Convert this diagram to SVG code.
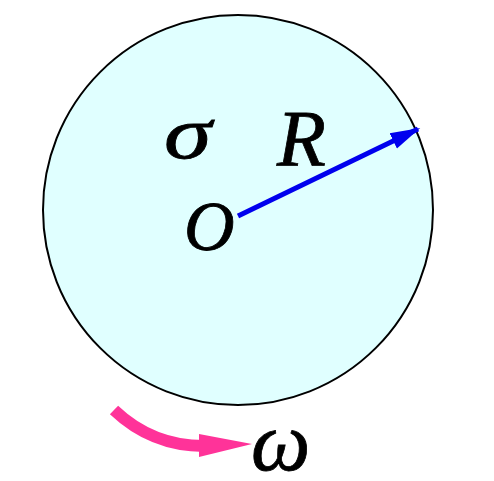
<svg xmlns="http://www.w3.org/2000/svg" width="494" height="481" viewBox="0 0 494 481">
<style>
.lbl{font-family:"Liberation Serif","DejaVu Serif",serif;font-style:italic;fill:#000;stroke:#000;stroke-width:0.8}
</style>
<defs>
<marker id="blueHead" markerWidth="6" markerHeight="4" refX="5.5" refY="2" orient="auto" markerUnits="strokeWidth">
<path d="M0,0.3 L6,2 L0,3.7 Z" fill="#0000ee"/>
</marker>
</defs>
<rect width="494" height="481" fill="#fff"/>
<g id="disk">
<circle cx="238" cy="210" r="195" fill="#e0ffff" stroke="#000" stroke-width="2"/>
</g>
<g id="connectors">
<line x1="238" y1="216" x2="418" y2="129" stroke="#0000ee" stroke-width="5" marker-end="url(#blueHead)"/>
<path d="M114,410 Q152,446 204,446" fill="none" stroke="#ff3399" stroke-width="12"/>
<polygon points="199,434 252,444 199,457" fill="#ff3399"/>
</g>
<g id="labels">
<text class="lbl" font-size="74" stroke-width="0.2" transform="translate(164,158) scale(1.3,1)">σ</text>
<text class="lbl" x="277" y="166" font-size="80">R</text>
<text class="lbl" x="184" y="250" font-size="70">O</text>
<text class="lbl" x="251" y="470" font-size="84">ω</text>
</g>
</svg>
